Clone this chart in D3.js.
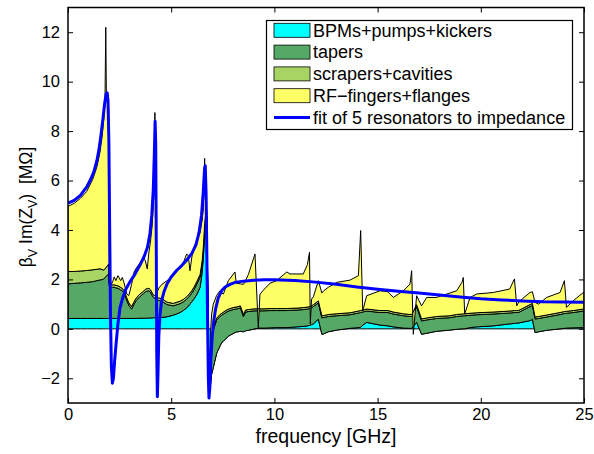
<!DOCTYPE html>
<html>
<head>
<meta charset="utf-8">
<script src="https://cdn.jsdelivr.net/npm/d3@7"></script>
<style>
  body { margin: 0; background: #fff; }
  svg text { font-family: "Liberation Sans", Arial, Helvetica, sans-serif; fill: #000; }
</style>
</head>
<body>
<svg id="chart" width="594" height="454"></svg>
<script>
// Frequency samples [GHz] shared by the four stacked impedance contributions
const freq = [
  0.0, 0.3, 0.6, 0.9, 1.2, 1.4, 1.55, 1.65, 1.73, 1.79, 1.83, 1.86, 1.92, 1.97, 2.0,
  2.05, 2.1, 2.16, 2.24, 2.32, 2.42, 2.55, 2.63, 2.71, 2.85, 2.95, 3.08, 3.2, 3.3, 3.45,
  3.65, 3.75, 3.84, 3.92, 4.0, 4.08, 4.15, 4.21, 4.25, 4.29,
  4.33, 4.4, 4.55, 4.8, 5.1, 5.43, 5.6, 5.75, 5.83, 5.91, 6.0, 6.1, 6.25, 6.4, 6.5,
  6.56, 6.62, 6.67, 6.73, 6.83,
  6.9, 6.96, 7.04, 7.2, 7.36, 7.45, 7.53, 7.77, 8.09, 8.15, 8.35, 8.5, 8.6, 8.74, 9.06,
  9.22, 9.3, 9.5, 9.8, 10.1, 10.6, 10.76, 11.1, 11.4, 11.6, 11.7, 11.74, 11.8, 11.89, 12.13,
  12.3, 12.4, 12.61, 13.02, 13.66, 14.07, 14.18, 14.28, 14.47, 15.12, 15.5, 15.76, 16.25, 16.57, 16.65,
  16.73, 16.89, 17.13, 17.38, 17.85, 18.5, 18.83, 19.1, 19.15, 19.22, 19.48, 19.8, 20.6, 21.4, 21.63,
  21.74, 21.85, 22.38, 22.5, 22.63, 22.8, 23.19, 23.84, 24.05, 24.15, 24.48, 24.97, 25.0
];

// BPMs + pumps + kickers [MOhm]
const bpm = [
  0.42, 0.42, 0.42, 0.42, 0.42, 0.42, 0.42, 0.42, 0.42, 0.42, 0.42, 0.42, 0.42, 0.42, 0.42,
  0.42, 0.42, 0.42, 0.42, 0.42, 0.42, 0.42, 0.42, 0.42, 0.42, 0.42, 0.42, 0.42, 0.42, 0.43,
  0.43, 0.43, 0.43, 0.44, 0.44, 0.44, 0.45, 0.45, 0.45, 0.45,
  0.45, 0.45, 0.46, 0.49, 0.55, 0.66, 0.75, 0.85, 0.92, 1.0, 1.1, 1.2, 1.4, 1.68, 2.3,
  2.9, 3.8, 4.2, 4.1, -2.8,
  -2.3, -1.84, -1.57, -1.0, -0.7, -0.55, -0.5, -0.3, -0.15, -0.13, -0.1, -0.12, -0.08, -0.06, 0.0,
  0.03, 0.03, 0.03, 0.04, 0.05, 0.05, 0.06, 0.08, 0.10, 0.12, 0.14, 0.15, 0.17, 0.2, 0.39,
  -0.22, -0.2, -0.12, -0.05, 0.02, 0.05, 0.06, 0.15, 0.26, 0.15, 0.12, 0.08, 0.03, 0.02, 0.02,
  0.10, 0.26, -0.22, -0.18, -0.10, -0.05, -0.02, 0.0, 0.0, 0.0, 0.05, 0.08, 0.12, 0.20, 0.22,
  0.23, 0.24, 0.33, 0.38, -0.15, -0.12, -0.06, 0.0, 0.02, 0.03, 0.04, 0.05, 0.05
];

// tapers [MOhm]
const tapers = [
  1.40, 1.42, 1.44, 1.46, 1.49, 1.53, 1.56, 1.57, 1.60, 1.65, 1.70, 1.72, 1.75, 1.83, 1.33,
  1.30, 1.28, 1.26, 1.26, 1.24, 1.22, 1.16, 1.12, 1.03, 0.73, 0.53, 0.38, 0.58, 0.72, 0.85,
  0.99, 1.07, 1.10, 1.10, 1.04, 0.91, 0.81, 0.80, 0.75, 0.70,
  0.70, 0.70, 0.66, 0.49, 0.38, 0.36, 0.35, 0.35, 0.35, 0.35, 0.35, 0.38, 0.43, 0.42, 0.35,
  0.35, 0.35, 0.35, 0.35, 0.0,
  1.4, 1.54, 1.52, 1.35, 1.2, 1.1, 1.1, 1.02, 0.95, 0.93, 0.95, 0.62, 0.76, 0.76, 0.73,
  0.70, 0.70, 0.70, 0.70, 0.69, 0.69, 0.69, 0.68, 0.68, 0.68, 0.68, 0.67, 0.68, 0.70, 0.66,
  0.67, 0.66, 0.62, 0.58, 0.55, 0.59, 0.60, 0.53, 0.46, 0.51, 0.54, 0.52, 0.50, 0.48, 0.48,
  0.50, 0.64, 0.54, 0.54, 0.52, 0.50, 0.52, 0.52, 0.53, 0.53, 0.50, 0.49, 0.48, 0.44, 0.44,
  0.43, 0.43, 0.57, 0.57, 0.55, 0.54, 0.54, 0.58, 0.60, 0.60, 0.62, 0.67, 0.67
];

// scrapers + cavities [MOhm]
const scrapers = [
  0.50, 0.48, 0.48, 0.48, 0.48, 0.46, 0.45, 0.41, 0.36, 0.35, 0.35, 0.36, 0.40, 0.37, 0.10,
  0.10, 0.10, 0.10, 0.10, 0.10, 0.10, 0.10, 0.10, 0.10, 0.10, 0.10, 0.10, 0.10, 0.10, 0.10,
  0.10, 0.10, 0.10, 0.10, 0.10, 0.10, 0.10, 0.10, 0.10, 0.10,
  0.10, 0.10, 0.10, 0.10, 0.10, 0.10, 0.10, 0.10, 0.10, 0.10, 0.10, 0.10, 0.10, 0.10, 0.10,
  0.10, 0.10, 0.10, 0.10, 0.0,
  0.10, 0.10, 0.08, 0.08, 0.08, 0.08, 0.08, 0.08, 0.08, 0.08, 0.08, 0.08, 0.08, 0.08, 0.08,
  0.08, 0.08, 0.08, 0.08, 0.08, 0.08, 0.08, 0.08, 0.08, 0.08, 0.08, 0.08, 0.08, 0.08, 0.08,
  0.08, 0.08, 0.08, 0.08, 0.08, 0.08, 0.08, 0.08, 0.08, 0.08, 0.08, 0.08, 0.08, 0.08, 0.08,
  0.08, 0.08, 0.08, 0.08, 0.08, 0.08, 0.08, 0.08, 0.08, 0.08, 0.08, 0.08, 0.08, 0.08, 0.08,
  0.08, 0.08, 0.08, 0.08, 0.08, 0.08, 0.08, 0.08, 0.08, 0.08, 0.08, 0.08, 0.08
];

// RF fingers + flanges [MOhm]
const rfFingers = [
  2.63, 2.76, 2.94, 3.19, 3.66, 4.14, 4.72, 5.35, 6.07, 6.68, 9.73, 6.95, 6.63, 6.25, 0.0,
  0.10, 0.00, 0.12, 0.32, 0.19, 0.41, 0.27, 0.44, 0.33, 0.15, 0.30, 0.90, 1.20, 1.21, 1.24,
  1.38, 1.15, 0.79, 1.46, 1.97, 2.75, 3.94, 7.40, 3.70, 0.30,
  0.25, 0.40, 0.58, 0.87, 1.12, 1.37, 1.50, 1.73, 1.58, 0.90, 1.35, 1.62, 1.67, 1.70, 1.65,
  1.55, 2.65, 0.55, 0.15, 0.0,
  0.60, 0.80, 0.97, 0.92, 0.96, 0.82, 0.73, 1.15, 1.42, 0.97, 0.89, 1.22, 1.19, 1.42, 2.22,
  -0.76, 0.59, 0.79, 1.03, 1.13, 1.48, 1.39, 1.38, 1.36, 1.72, 2.20, -0.70, 0.27, 0.32, 0.82,
  0.92, 1.01, 1.10, 1.27, 1.32, 1.43, 3.24, -0.03, 0.54, 0.80, 0.76, 0.59, 0.93, 1.23, 1.77,
  -0.90, 0.36, 0.53, 0.83, 0.77, 0.92, 0.96, 1.30, 1.47, -0.01, 0.64, 0.76, 0.79, 0.89, 1.28,
  0.19, 0.35, 0.49, 0.47, 0.59, 0.50, 0.71, 0.81, 1.25, 0.16, 0.40, 0.67, 0.67
];

// Fit of 5 broadband resonators to the total impedance
const fitFreq = [
  0, 0.3, 0.6, 0.9, 1.1, 1.25, 1.4, 1.5, 1.6, 1.7, 1.78, 1.85, 1.9, 1.94, 1.98,
  2.02, 2.06, 2.1, 2.15, 2.2, 2.26, 2.33, 2.42, 2.52, 2.65, 2.8, 3.0, 3.2, 3.5, 3.7,
  3.85, 3.97, 4.06, 4.13, 4.18, 4.22, 4.25, 4.27, 4.3, 4.33, 4.36, 4.4, 4.46, 4.54, 4.65,
  4.8, 5.0, 5.27, 5.5, 5.75, 6.0, 6.2, 6.35, 6.47, 6.55, 6.62, 6.65, 6.69, 6.72, 6.76,
  6.8, 6.83, 6.87, 6.92, 6.98, 7.04, 7.15, 7.28, 7.45, 7.6, 7.85, 8.1, 8.5, 9.0, 9.5,
  10, 11, 12, 13, 14, 15, 16, 17, 18, 19, 20, 21, 22, 23, 24, 25
];
const fitValues = [
  5.08, 5.2, 5.4, 5.73, 6.05, 6.35, 6.8, 7.25, 7.85, 8.55, 9.15, 9.5, 9.55, 9.2, 7.6,
  4.0, 0.5, -1.5, -2.2, -2.0, -1.3, -0.6, 0.2, 0.85, 1.25, 1.6, 1.9, 2.15, 2.6, 2.95,
  3.3, 3.85, 4.6, 5.6, 7.0, 8.4, 7.5, 4.5, -1.0, -2.75, -1.8, -0.3, 0.6, 1.15, 1.5,
  1.82, 2.1, 2.37, 2.55, 2.78, 3.05, 3.4, 3.9, 4.6, 5.5, 6.5, 6.6, 5.5, 3.5, 0.5,
  -2.0, -2.8, -2.4, -1.3, -0.4, 0.19, 0.8, 1.25, 1.55, 1.68, 1.8, 1.88, 1.93, 1.97, 1.99,
  1.99, 1.96, 1.89, 1.8, 1.69, 1.6, 1.52, 1.45, 1.37, 1.29, 1.22, 1.17, 1.13, 1.1, 1.09, 1.08
];

const xTicks = [0, 5, 10, 15, 20, 25];
const yTicks = [-2, 0, 2, 4, 6, 8, 10, 12];
const seriesNames = ["BPMs+pumps+kickers", "tapers", "scrapers+cavities", "RF\u2212fingers+flanges"];
const fitName = "fit of 5 resonators to impedance";

const seriesColors = ["#00ffff", "#55a866", "#a8d466", "#ffff66"];
const fitColor = "#0000ff";

const plot = { left: 68, right: 584, top: 7.5, bottom: 403 };

const svg = d3.select("#chart");

const x = d3.scaleLinear().domain([0, 25]).range([plot.left, plot.right]);
const y = d3.scaleLinear().domain([-3, 13]).range([plot.bottom, plot.top]);

// Rows for the stack: one object per frequency sample
const keys = ["bpm", "tapers", "scrapers", "rf"];
const rows = freq.map((f, i) => ({
  f, bpm: bpm[i], tapers: tapers[i], scrapers: scrapers[i], rf: rfFingers[i]
}));
const stacked = d3.stack().keys(keys).offset(d3.stackOffsetNone)(rows);

svg.append("defs").append("clipPath").attr("id", "plotClip")
  .append("rect")
  .attr("x", plot.left).attr("y", plot.top)
  .attr("width", plot.right - plot.left).attr("height", plot.bottom - plot.top);

const gData = svg.append("g").attr("clip-path", "url(#plotClip)");

const area = d3.area()
  .x(d => x(d.data.f))
  .y0(d => y(d[0]))
  .y1(d => y(d[1]))
  .curve(d3.curveLinear);

gData.selectAll("path.layer")
  .data(stacked)
  .join("path")
  .attr("class", "layer")
  .attr("d", area)
  .attr("fill", (d, i) => seriesColors[i])
  .attr("stroke", "#000")
  .attr("stroke-width", 1)
  .attr("stroke-linejoin", "round");

const fitLine = d3.line()
  .x((d, i) => x(fitFreq[i]))
  .y(d => y(d))
  .curve(d3.curveLinear);

gData.append("path")
  .datum(fitValues)
  .attr("d", fitLine)
  .attr("fill", "none")
  .attr("stroke", fitColor)
  .attr("stroke-width", 3)
  .attr("stroke-linejoin", "round");

// Axes with inward ticks on all four sides
const tickLen = 5;
const fontSize = 16.5;

const axB = svg.append("g")
  .attr("transform", `translate(0,${plot.bottom})`)
  .call(d3.axisBottom(x).tickValues(xTicks).tickSizeInner(-tickLen).tickSizeOuter(0).tickPadding(5).tickFormat(d3.format("d")));
const axT = svg.append("g")
  .attr("transform", `translate(0,${plot.top})`)
  .call(d3.axisTop(x).tickValues(xTicks).tickSizeInner(-tickLen).tickSizeOuter(0).tickFormat(""));
const axL = svg.append("g")
  .attr("transform", `translate(${plot.left},0)`)
  .call(d3.axisLeft(y).tickValues(yTicks).tickSizeInner(-tickLen).tickSizeOuter(0).tickPadding(8)
    .tickFormat(d => d < 0 ? "\u2212" + Math.abs(d) : String(d)));
const axR = svg.append("g")
  .attr("transform", `translate(${plot.right},0)`)
  .call(d3.axisRight(y).tickValues(yTicks).tickSizeInner(-tickLen).tickSizeOuter(0).tickFormat(""));

[axB, axT, axL, axR].forEach(g => {
  g.select(".domain").remove();
  g.selectAll(".tick line").attr("stroke", "#000").attr("stroke-width", 1);
  g.selectAll(".tick text").attr("font-size", fontSize).attr("fill", "#000")
    .style("font-family", '"Liberation Sans", Arial, Helvetica, sans-serif');
});

// Axes box
svg.append("rect")
  .attr("x", plot.left).attr("y", plot.top)
  .attr("width", plot.right - plot.left).attr("height", plot.bottom - plot.top)
  .attr("fill", "none").attr("stroke", "#000").attr("stroke-width", 1.5);

// Axis titles
svg.append("text")
  .attr("x", (plot.left + plot.right) / 2)
  .attr("y", 443)
  .attr("text-anchor", "middle")
  .attr("font-size", 19.5)
  .text("frequency [GHz]");

const yLabel = svg.append("text")
  .attr("transform", "translate(32,207) rotate(-90)")
  .attr("text-anchor", "middle")
  .attr("font-size", 17.5);
yLabel.append("tspan").text("\u03b2");
yLabel.append("tspan").attr("font-size", 12.5).attr("dy", 5).text("V");
yLabel.append("tspan").attr("dy", -5).text(" Im(Z");
yLabel.append("tspan").attr("font-size", 12.5).attr("dy", 5).text("V");
yLabel.append("tspan").attr("dy", -5).text(")\u00a0\u00a0[M\u03a9]");

// Legend
const legend = { x: 266.5, y: 20.5, w: 306, h: 109, rowH: 21.8 };
const gLeg = svg.append("g");
gLeg.append("rect")
  .attr("x", legend.x).attr("y", legend.y)
  .attr("width", legend.w).attr("height", legend.h)
  .attr("fill", "#fff").attr("stroke", "#000").attr("stroke-width", 1.2);

const legendItems = seriesNames.map((name, i) => ({ name, color: seriesColors[i], type: "patch" }))
  .concat([{ name: fitName, color: fitColor, type: "line" }]);

legendItems.forEach((item, i) => {
  const cy = legend.y + 9.8 + i * legend.rowH;
  if (item.type === "patch") {
    gLeg.append("rect")
      .attr("x", 274).attr("y", cy - 7)
      .attr("width", 36).attr("height", 14)
      .attr("fill", item.color).attr("stroke", "#000").attr("stroke-width", 0.8);
  } else {
    gLeg.append("line")
      .attr("x1", 274).attr("x2", 310).attr("y1", cy).attr("y2", cy)
      .attr("stroke", item.color).attr("stroke-width", 3);
  }
  gLeg.append("text")
    .attr("x", 313).attr("y", cy)
    .attr("dy", "0.35em")
    .attr("font-size", 18)
    .text(item.name);
});
</script>
</body>
</html>
